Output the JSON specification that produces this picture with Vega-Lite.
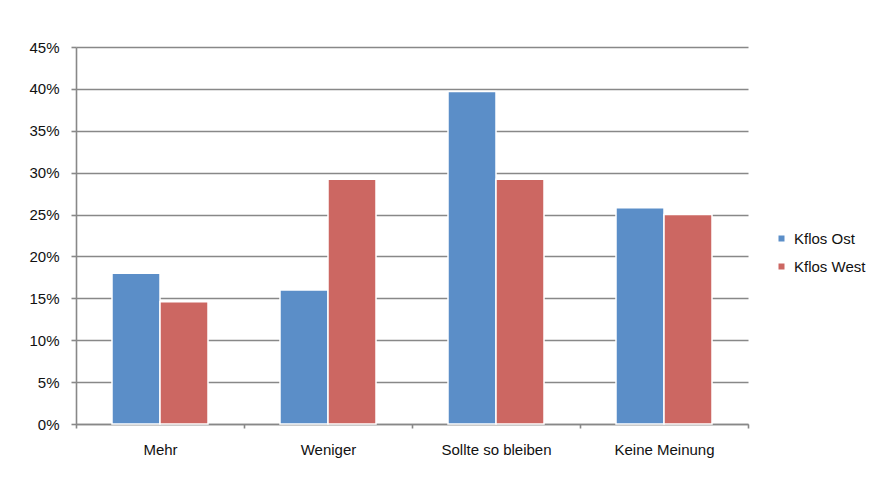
{
  "$schema": "https://vega.github.io/schema/vega-lite/v6.json",
  "autosize": "none",
  "width": 672,
  "height": 377,
  "padding": {"left": 76, "top": 47, "right": 135, "bottom": 58},
  "background": "white",
  "data": {
    "values": [
      {"kategorie": "Mehr", "gruppe": "Kflos Ost", "anteil": 0.180},
      {"kategorie": "Mehr", "gruppe": "Kflos West", "anteil": 0.146},
      {"kategorie": "Weniger", "gruppe": "Kflos Ost", "anteil": 0.160},
      {"kategorie": "Weniger", "gruppe": "Kflos West", "anteil": 0.292},
      {"kategorie": "Sollte so bleiben", "gruppe": "Kflos Ost", "anteil": 0.397},
      {"kategorie": "Sollte so bleiben", "gruppe": "Kflos West", "anteil": 0.292},
      {"kategorie": "Keine Meinung", "gruppe": "Kflos Ost", "anteil": 0.258},
      {"kategorie": "Keine Meinung", "gruppe": "Kflos West", "anteil": 0.250}
    ]
  },
  "mark": {"type": "bar", "stroke": "white", "strokeWidth": 1.5},
  "encoding": {
    "x": {
      "field": "kategorie",
      "type": "nominal",
      "sort": ["Mehr", "Weniger", "Sollte so bleiben", "Keine Meinung"],
      "scale": {"paddingInner": 0, "paddingOuter": 0},
      "axis": {
        "title": null,
        "labelAngle": 0,
        "tickBand": "extent",
        "tickSize": 4,
        "tickColor": "#888888",
        "tickWidth": 1.6,
        "domainColor": "#888888",
        "domainWidth": 1.6,
        "labelPadding": 14,
        "labelFont": "Liberation Sans",
        "labelFontSize": 15,
        "labelColor": "#111111",
        "grid": false
      }
    },
    "xOffset": {
      "field": "gruppe",
      "type": "nominal",
      "scale": {"paddingOuter": 0.75, "paddingInner": 0}
    },
    "y": {
      "field": "anteil",
      "type": "quantitative",
      "scale": {"domain": [0, 0.45], "nice": false},
      "axis": {
        "title": null,
        "format": ".0%",
        "values": [0, 0.05, 0.1, 0.15, 0.2, 0.25, 0.3, 0.35, 0.4, 0.45],
        "grid": true,
        "gridColor": "#888888",
        "gridWidth": 1.6,
        "gridOpacity": 1,
        "tickSize": 5,
        "tickColor": "#888888",
        "tickWidth": 1.6,
        "domainColor": "#888888",
        "domainWidth": 1.6,
        "labelPadding": 12,
        "labelFont": "Liberation Sans",
        "labelFontSize": 15,
        "labelColor": "#111111"
      }
    },
    "color": {
      "field": "gruppe",
      "type": "nominal",
      "scale": {"domain": ["Kflos Ost", "Kflos West"], "range": ["#5b8ec8", "#cc6762"]},
      "legend": {
        "title": null,
        "orient": "none",
        "legendX": 698,
        "legendY": 184,
        "symbolType": "square",
        "symbolSize": 36,
        "symbolStrokeWidth": 0,
        "labelFont": "Liberation Sans",
        "labelFontSize": 15,
        "labelColor": "#111111",
        "labelOffset": 5,
        "rowPadding": 12
      }
    }
  },
  "config": {"view": {"stroke": null}}
}
